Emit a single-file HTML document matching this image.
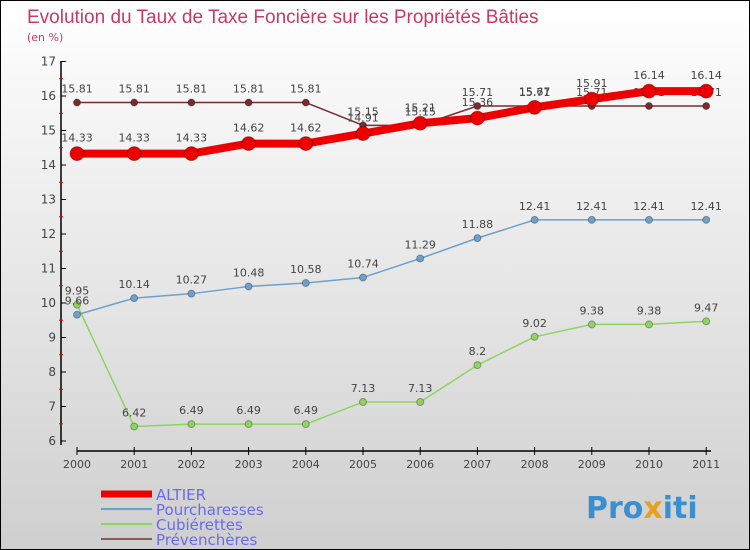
<!DOCTYPE html>
<html><head><meta charset="utf-8"><style>
body{margin:0}
#c{width:748px;height:548px;border:1px solid #000;background:linear-gradient(#fff,#cfcfcf);position:relative;overflow:hidden;font-family:"DejaVu Sans","Liberation Sans",sans-serif}
</style></head><body>
<div id="c">
<svg width="748" height="548">
<text x="26" y="22" font-size="19" fill="#c8386a" font-family="Liberation Sans,sans-serif">Evolution du Taux de Taxe Foncière sur les Propriétés Bâties</text>
<text x="26" y="40" font-size="11" fill="#c8386a">(en %)</text>
<g id="axes"></g><g id="series"></g><g id="legend"></g>
<text x="585" y="517" font-size="30" font-weight="bold" fill="#3a8fd0">Pro<tspan fill="#e8a020">x</tspan>iti</text>
</svg></div>
<script>
const years=['2000','2001','2002','2003','2004','2005','2006','2007','2008','2009','2010','2011'];
const yTicks=[6,7,8,9,10,11,12,13,14,15,16,17];
const altier=[14.33,14.33,14.33,14.62,14.62,14.91,15.21,15.36,15.67,15.91,16.14,16.14];
const pourch=[9.66,10.14,10.27,10.48,10.58,10.74,11.29,11.88,12.41,12.41,12.41,12.41];
const cubier=[9.95,6.42,6.49,6.49,6.49,7.13,7.13,8.2,9.02,9.38,9.38,9.47];
const preven=[15.81,15.81,15.81,15.81,15.81,15.15,15.15,15.71,15.71,15.71,15.71,15.71];
const NS='http://www.w3.org/2000/svg';
const X=i=>76+i*57.2, Y=v=>440-(v-6)*34.5;
function mk(t,a,p){const e=document.createElementNS(NS,t);for(const k in a)e.setAttribute(k,a[k]);p.appendChild(e);return e;}
const ax=document.getElementById('axes');
let l=mk('line',{x1:60,y1:60,x2:60,y2:444,stroke:'#000','stroke-width':1.5},ax);

l=mk('line',{x1:76,y1:450,x2:710,y2:450,stroke:'#000','stroke-width':1.5},ax);

yTicks.forEach((v,i)=>{mk('line',{x1:60,y1:Y(v),x2:65,y2:Y(v),stroke:'#000'},ax);
 if(i<yTicks.length-1)mk('line',{x1:58,y1:Y(v+0.5),x2:62,y2:Y(v+0.5),stroke:'#e00'},ax);
 const t=mk('text',{x:55,y:Y(v)+4,'font-size':12,'text-anchor':'end',fill:'#444'},ax);t.textContent=v;
 });
years.forEach((y,i)=>{mk('line',{x1:X(i),y1:446,x2:X(i),y2:454,stroke:'#000'},ax);
 const t=mk('text',{x:X(i),y:467,'font-size':11,'text-anchor':'middle',fill:'#444'},ax);t.textContent=y;
 });
const sg=document.getElementById('series');
function series(d,col,w,r,name,dy){
 const g=mk('g',{},sg);
 mk('polyline',{points:d.map((v,i)=>X(i)+','+Y(v)).join(' '),fill:'none',stroke:col,'stroke-width':w,'stroke-linejoin':'round'},g);
 d.forEach((v,i)=>{const c=mk('circle',{cx:X(i),cy:Y(v),r:r,fill:col,stroke:'rgba(0,0,0,0.3)'},g);
  
  const t=mk('text',{x:X(i),y:Y(v)+dy,'font-size':11,'text-anchor':'middle',fill:'#444'},g);t.textContent=v;
  });
}
series(cubier,'#8fd460',1.5,3.5,'cubierettes-series',-10);
series(pourch,'#6fa0cc',1.5,3.5,'pourcharesses-series',-10);
series(preven,'#7a2a30',1.5,3.5,'prevencheres-series',-10);
series(altier,'#ee0000',8,7,'altier-series',-12);
const lg=document.getElementById('legend');
[['ALTIER','#ee0000',7],['Pourcharesses','#6fa0cc',2],['Cubiérettes','#8fd460',2],['Prévenchères','#8a5a5a',2]].forEach((e,i)=>{
 const y=493+i*15;
 mk('line',{x1:100,y1:y,x2:151,y2:y,stroke:e[1],'stroke-width':e[2]},lg);
 const t=mk('text',{x:155,y:y+6,'font-size':15,fill:'#6a6af0'},lg);t.textContent=e[0];
 });
</script></body></html>
